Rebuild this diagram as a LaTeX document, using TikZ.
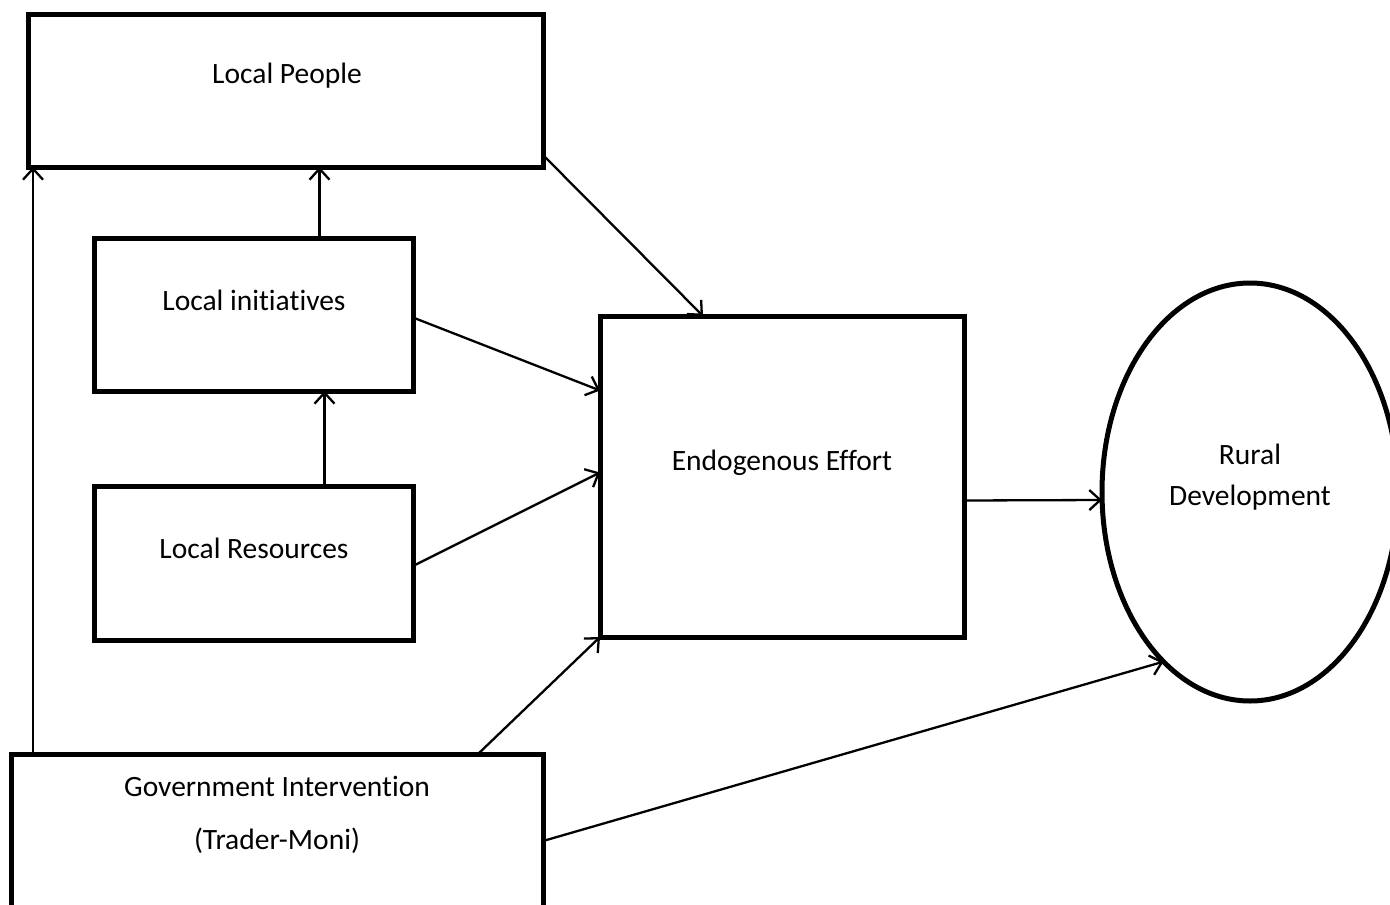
\documentclass[tikz,border=0pt]{standalone}
\usepackage{fontspec}
\setmainfont{Carlito}[Ligatures={NoCommon}]
\usetikzlibrary{arrows.meta,shapes.geometric,calc}
\begin{document}
\begin{tikzpicture}[x=1pt,y=-1pt,
  box/.style={draw,line width=5pt,rectangle,inner sep=0pt,outer sep=0pt,anchor=north west},
  conn/.style={line width=2.3pt,-{Straight Barb[length=11pt,width=20pt,line width=2.3pt]}},
  txt/.style={font=\fontsize{29.5}{41}\selectfont,inner sep=0pt,align=center}]
\useasboundingbox (0,0) rectangle (1390,905);
\clip (0,0) rectangle (1390,905);
% boxes
\node[box,minimum width=515pt,minimum height=153pt] (lp) at (28,14) {};
\node[box,minimum width=319pt,minimum height=153pt] (li) at (94,238) {};
\node[box,minimum width=319pt,minimum height=154pt] (lr) at (94,486) {};
\node[box,minimum width=364pt,minimum height=321pt] (ee) at (600,316) {};
\node[box,minimum width=532pt,minimum height=174pt] (gov) at (11,754) {};
\node[draw,line width=5pt,ellipse,inner sep=0pt,outer sep=0pt,minimum width=296pt,minimum height=418pt] (rd) at (1250,492) {};
% texts
\node[txt] (lpt) at (287,76) {Local People};
\node[txt] (lit) at (254,300) {Local initiatives};
\node[txt] (lrt) at (254,548) {Local Resources};
\node[txt] (eet) at (782,463) {Endogenous Effort};
\node[txt] (rdt) at (1250,477) {Rural\\Development};
\node[txt] (govt1) at (277,786) {Government Intervention};
\node[txt] (govt2) at (277,841) {(Trader-Moni)};
% connectors
\draw[conn] ([xshift=22pt]gov.north west) -- ([xshift=22pt]gov.north west |- lp.south);
\draw[conn] ([xshift=66pt]li.north) -- ([xshift=66pt]li.north |- lp.south);
\draw[conn] ([xshift=71pt]lr.north) -- ([xshift=71pt]lr.north |- li.south);
\draw[conn] ([yshift=12pt]lp.south east) -- ([xshift=-79pt]ee.north);
\draw[conn] ([yshift=-3pt]li.east) -- ([yshift=86pt]ee.west);
\draw[conn] ([yshift=-3pt]lr.east) -- ([yshift=4pt]ee.west);
\draw[conn] ([xshift=201pt]gov.north) -- (ee.south west);
\draw[conn] ([yshift=-24pt]ee.east) -- ([yshift=-8pt]rd.west);
\draw[conn] (gov.east) -- (rd.243);
\end{tikzpicture}
\end{document}
